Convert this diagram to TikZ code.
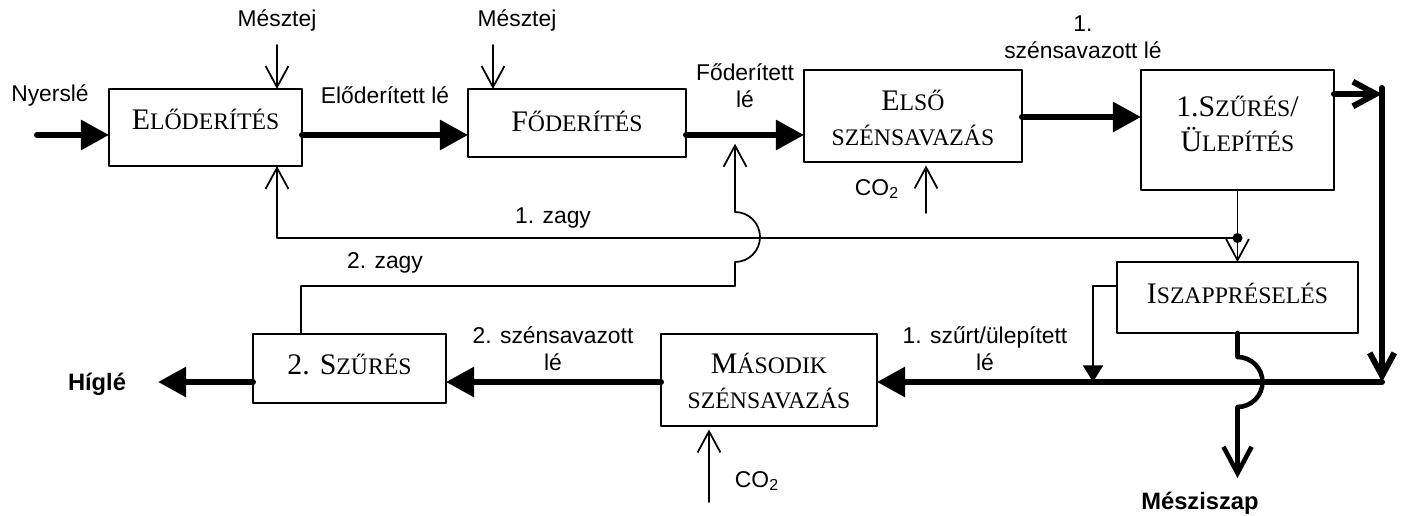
\documentclass[tikz,border=0pt]{standalone}
\usepackage{fontspec}
\setmainfont{Liberation Serif}
\setsansfont{Liberation Sans}
\usetikzlibrary{arrows.meta}
\newcommand\kis[1]{{\fontsize{13.5}{20}\selectfont #1}}
\tikzset{
	box/.style={draw, line width=1.1pt, inner sep=0pt, outer sep=0pt},
	boxtxt/.style={font=\rmfamily\fontsize{17}{20}\selectfont, align=center, inner sep=0pt},
	flow/.style={line width=3.4pt, -{Triangle[length=16pt,width=16.5pt]}},
	flowv/.style={line width=3.4pt, -{Straight Barb[length=13pt,width=14pt]}},
	feed/.style={line width=1pt, -{Straight Barb[length=12pt,width=13pt]}},
	lbl/.style={align=center, inner sep=0pt}
}
\begin{document}
\begin{tikzpicture}[x=0.02cm, y=-0.02cm, font=\sffamily\fontsize{13}{15.5}\selectfont, line join=round, line cap=round]
	\useasboundingbox (0,0) rectangle (1402,516);
	% boxes
	\node[box, minimum width=3.86cm, minimum height=1.54cm] (elo) at (205.5,127.5) {};
	\node[box, minimum width=4.36cm, minimum height=1.36cm] (fo) at (577,123) {};
	\node[box, minimum width=4.36cm, minimum height=1.84cm] (elso) at (913,116) {};
	\node[box, minimum width=3.86cm, minimum height=2.4cm] (sz1) at (1237.5,130) {};
	\node[box, minimum width=4.82cm, minimum height=1.42cm] (isz) at (1237.5,297.5) {};
	\node[box, minimum width=4.32cm, minimum height=1.84cm] (mas) at (769,380) {};
	\node[box, minimum width=3.86cm, minimum height=1.38cm] (sz2) at (349.5,368.5) {};
	\node[boxtxt] (elo-t) at (205.5,119) {E\kis{LŐDERÍTÉS}};
	\node[boxtxt] (fo-t) at (577,121) {F\kis{ŐDERÍTÉS}};
	\node[boxtxt] (elso-t) at (913,118) {E\kis{LSŐ}\\\kis{SZÉNSAVAZÁS}};
	\node[boxtxt] (sz1-t) at (1237.5,124) {1.S\kis{ZŰRÉS}/\\Ü\kis{LEPÍTÉS}};
	\node[boxtxt] (isz-t) at (1237.5,293) {I\kis{SZAPPRÉSELÉS}};
	\node[boxtxt] (mas-t) at (769,381) {M\kis{ÁSODIK}\\\kis{SZÉNSAVAZÁS}};
	\node[boxtxt] (sz2-t) at (349.5,365) {2. S\kis{ZŰRÉS}};
	% labels
	\node[lbl] (nyers) at (50,95) {Nyerslé};
	\node[lbl] (m1) at (277,20) {Mésztej};
	\node[lbl] (m2) at (517,20) {Mésztej};
	\node[lbl] (elolbl) at (385,95) {Előderített lé};
	\node[lbl] (folbl) at (745,86) {Főderített\\lé};
	\node[lbl] (sz1lbl) at (1083,37) {1.\\szénsavazott lé};
	\node[lbl] (co2a) at (877,189) {CO\textsubscript{2}};
	\node[lbl] (z1) at (553,218) {1. zagy};
	\node[lbl] (z2) at (385,263) {2. zagy};
	\node[lbl] (sz2lbl) at (553,349) {2. szénsavazott\\lé};
	\node[lbl] (szurtlbl) at (985,349) {1. szűrt/ülepített\\lé};
	\node[lbl, font=\sffamily\bfseries\fontsize{13.5}{16}\selectfont] (higle) at (97,384) {Híglé};
	\node[lbl, font=\sffamily\bfseries\fontsize{13.5}{16}\selectfont] (iszap) at (1200,503) {Mésziszap};
	\node[lbl] (co2b) at (757,481) {CO\textsubscript{2}};
	% points
	\coordinate (in) at (37,135);
	\coordinate (m1a) at (277,45);
	\coordinate (m2a) at (493,45);
	\coordinate (co1) at (926,213);
	\coordinate (c1) at (1382,94);
	\coordinate (c2) at (1382,382);
	\coordinate (out) at (158,382);
	\coordinate (d) at (1237.5,238);
	\coordinate (h) at (735,286);
	\coordinate (i1) at (1093,286);
	\coordinate (co2) at (709,502);
	\coordinate (mz) at (1237.5,478);
	% main flow
	\draw[flow] (in) -- (in -| elo.west);
	\draw[flow] (elo.east |- in) -- (fo.west |- in);
	\draw[flow] (fo.east |- in) -- (elso.west |- in);
	\draw[flow] (elso.east |- 0,117) -- (sz1.west |- 0,117);
	\draw[flowv] (sz1.east |- c1) -- (c1);
	\draw[flowv] ([yshift=0.12cm]c1) -- (c2);
	\draw[flow] (c2) -- (c2 -| mas.east);
	\draw[flow] (mas.west |- c2) -- (sz2.east |- c2);
	\draw[flow] (sz2.west |- c2) -- (out);
	% feeds
	\draw[feed] (m1a) -- (m1a |- elo.north);
	\draw[feed] (m2a) -- (m2a |- fo.north);
	\draw[feed, shorten >=2pt] (co1) -- (co1 |- elso.south);
	\draw[feed, shorten >=2pt] (co2) -- (co2 |- mas.south);
	\draw[feed] (sz1.south) -- (isz.north);
	\fill (d) circle (0.1cm);
	% 1. zagy
	\draw[feed] (d) -- (d -| m1a) -- (m1a |- elo.south);
	% 2. zagy
	\draw[feed, shorten >=5pt] (sz2.north -| 301,0) -- (301,286) -- (h) -- (735,262)
		arc[start angle=-90, end angle=90, radius=0.5cm] -- (h |- in);
	% iszap
	\draw[line width=1pt, -{Triangle[length=9.5pt,width=11.5pt]}] (isz.west |- i1) -- (i1) -- (i1 |- c2);
	\draw[line width=2.6pt, -{Straight Barb[length=15pt,width=16pt]}] (isz.south) -- (1237.5,357)
		arc[start angle=90, end angle=-90, radius=0.5cm] -- (mz);
\end{tikzpicture}
\end{document}
